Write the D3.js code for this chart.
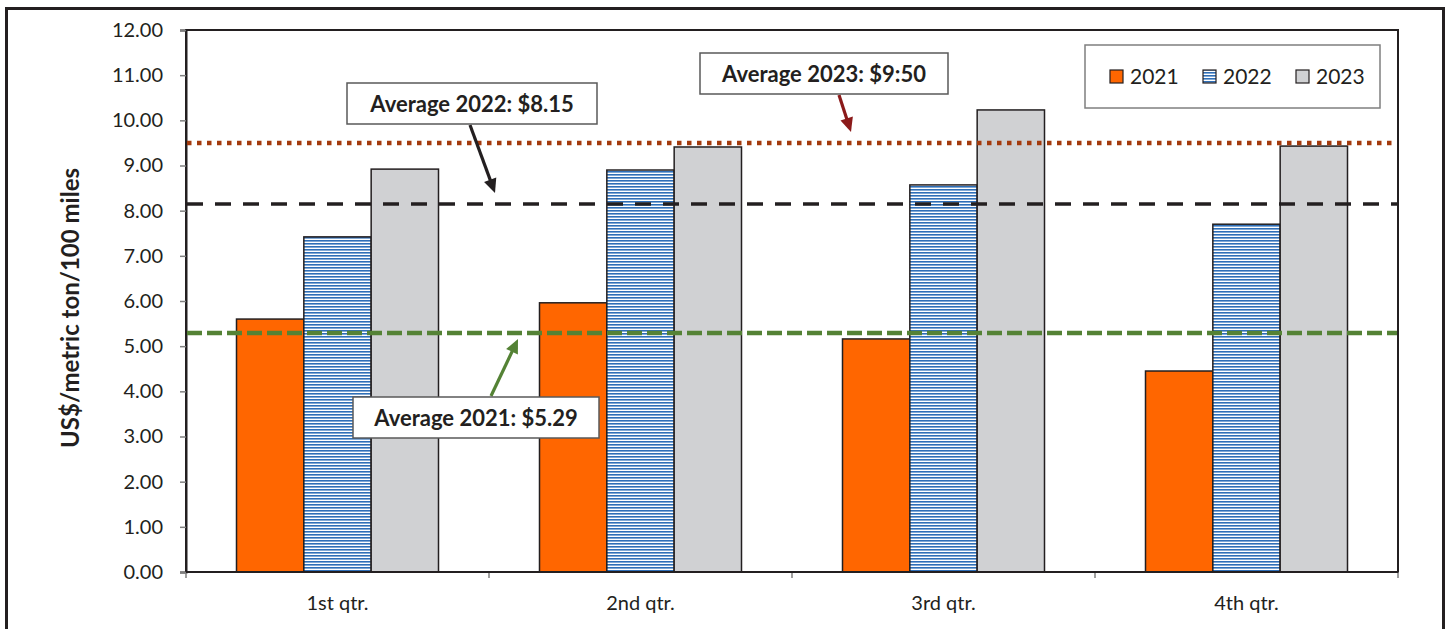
<!DOCTYPE html>
<html>
<head>
<meta charset="utf-8">
<script src="https://cdn.jsdelivr.net/npm/d3@7/dist/d3.min.js"></script>
<style>
  html, body { margin: 0; padding: 0; background: #fff; }
  svg { display: block; font-family: Lato, "Open Sans", sans-serif; }
</style>
</head>
<body>
<svg id="chart" width="1448" height="629"></svg>
<script>
// Quarterly rates, US$ per metric ton per 100 miles
const quarters = ["1st qtr.", "2nd qtr.", "3rd qtr.", "4th qtr."];
const years = ["2021", "2022", "2023"];
const values2021 = [5.60, 5.96, 5.16, 4.45];
const values2022 = [7.42, 8.90, 8.57, 7.70];
const values2023 = [8.92, 9.41, 10.23, 9.43];
const yTicks = [0, 1, 2, 3, 4, 5, 6, 7, 8, 9, 10, 11, 12];

// Yearly averages drawn as reference lines, with their callouts
const averages = [5.29, 8.15, 9.50];
const averageLabels = ["Average 2021: $5.29", "Average 2022: $8.15", "Average 2023: $9:50"];

const seriesValues = [values2021, values2022, values2023];

const svg = d3.select("#chart");
const ink = "#231f20";

const plot = { left: 186, right: 1398, top: 30, bottom: 572 };

const x0 = d3.scaleBand().domain(quarters)
  .range([plot.left, plot.right]).paddingInner(1 / 3).paddingOuter(1 / 6);
const x1 = d3.scaleBand().domain(years).range([0, x0.bandwidth()]).padding(0);
const y = d3.scaleLinear().domain([0, 12]).range([plot.bottom, plot.top]);

// hatch fill for 2022
const defs = svg.append("defs");
const pat = defs.append("pattern").attr("id", "hatch2022")
  .attr("patternUnits", "userSpaceOnUse").attr("width", 6).attr("height", 3);
pat.append("rect").attr("width", 6).attr("height", 3).attr("fill", "#ffffff");
pat.append("rect").attr("y", 0).attr("width", 6).attr("height", 1.6).attr("fill", "#2f6fb8");

const fills = { "2021": "#ff6600", "2022": "url(#hatch2022)", "2023": "#d0d1d3" };

// outer frame
svg.append("rect").attr("x", 6.5).attr("y", 8.5).attr("width", 1437).attr("height", 640)
  .attr("fill", "none").attr("stroke", ink).attr("stroke-width", 3);

// plot area border
svg.append("rect").attr("x", plot.left).attr("y", plot.top)
  .attr("width", plot.right - plot.left).attr("height", plot.bottom - plot.top)
  .attr("fill", "#fff").attr("stroke", ink).attr("stroke-width", 2);

// y axis
const yAxis = d3.axisLeft(y).tickValues(yTicks).tickFormat(d3.format(".2f")).tickSize(6).tickPadding(17);
const gy = svg.append("g").attr("transform", `translate(${plot.left},0)`).call(yAxis);
gy.select(".domain").attr("stroke", ink).attr("stroke-width", 2);
gy.selectAll(".tick line").attr("stroke", "#7f7f7f").attr("stroke-width", 1.5);
gy.selectAll(".tick text").attr("fill", ink).style("font-size", "20px")
  .style("font-family", "Lato, sans-serif");

// x axis: ticks at category boundaries
const boundaries = quarters.map(q => x0(q) - x0.step() * x0.paddingInner() / 2)
  .concat([plot.right]);
svg.append("g").selectAll("line").data(boundaries).join("line")
  .attr("x1", d => d).attr("x2", d => d)
  .attr("y1", plot.bottom).attr("y2", plot.bottom + 6)
  .attr("stroke", "#7f7f7f").attr("stroke-width", 1.5);
svg.append("g").selectAll("text").data(quarters).join("text")
  .attr("x", d => x0(d) + x0.bandwidth() / 2).attr("y", 610)
  .attr("text-anchor", "middle").attr("fill", ink).style("font-size", "20px")
  .text(d => d);

// bars
const groups = svg.append("g").selectAll("g").data(quarters).join("g")
  .attr("transform", d => `translate(${x0(d)},0)`);
groups.selectAll("rect")
  .data((q, i) => years.map((yr, k) => ({ year: yr, value: seriesValues[k][i] })))
  .join("rect")
  .attr("x", d => x1(d.year)).attr("width", x1.bandwidth())
  .attr("y", d => y(d.value)).attr("height", d => y(0) - y(d.value))
  .attr("fill", d => fills[d.year])
  .attr("stroke", ink).attr("stroke-width", 1.5);

// redraw bottom axis line over the bars
svg.append("line").attr("x1", plot.left).attr("x2", plot.right)
  .attr("y1", plot.bottom).attr("y2", plot.bottom)
  .attr("stroke", ink).attr("stroke-width", 2);

// average lines
const lineStyles = [
  { color: "#548235", dash: "15,5", width: 4.5 },
  { color: ink, dash: "16,12", width: 3.5 },
  { color: "#a33a0c", dash: "4.5,5.5", width: 4.5 }
];
averages.forEach((v, i) => {
  svg.append("line")
    .attr("x1", plot.left + 1).attr("x2", plot.right - 1)
    .attr("y1", y(v)).attr("y2", y(v))
    .attr("stroke", lineStyles[i].color)
    .attr("stroke-width", lineStyles[i].width)
    .attr("stroke-dasharray", lineStyles[i].dash);
});

// callouts: box and arrow pointing at each average line
const callouts = [
  { box: [353, 397, 246, 41], from: [491, 396], tipDx: 518, tipOffset: 6, color: "#548235" },
  { box: [347, 83, 250, 41], from: [470, 125], tipDx: 495, tipOffset: -11, color: ink },
  { box: [700, 53, 248, 41], from: [839, 95], tipDx: 851, tipOffset: -11, color: "#8b1a1a" }
];
callouts.forEach((c, i) => {
  const tip = [c.tipDx, y(averages[i]) + c.tipOffset];
  const dx = tip[0] - c.from[0], dy = tip[1] - c.from[1];
  const len = Math.hypot(dx, dy);
  const ux = dx / len, uy = dy / len;
  const headL = 14, headW = 6.5;
  const base = [tip[0] - ux * headL, tip[1] - uy * headL];
  svg.append("line")
    .attr("x1", c.from[0]).attr("y1", c.from[1])
    .attr("x2", base[0] + ux * 2).attr("y2", base[1] + uy * 2)
    .attr("stroke", c.color).attr("stroke-width", 3.2);
  svg.append("path")
    .attr("d", d3.line()([
      tip,
      [base[0] - uy * headW, base[1] + ux * headW],
      [base[0] + uy * headW, base[1] - ux * headW]
    ]) + "Z")
    .attr("fill", c.color);
  const [bx, by, bw, bh] = c.box;
  svg.append("rect").attr("x", bx).attr("y", by).attr("width", bw).attr("height", bh)
    .attr("fill", "#fff").attr("stroke", "#595959").attr("stroke-width", 1.5);
  svg.append("text").attr("x", bx + bw / 2).attr("y", by + bh / 2 + 8)
    .attr("text-anchor", "middle").attr("fill", ink)
    .style("font-size", "22px").style("font-weight", "bold")
    .text(averageLabels[i]);
});

// legend
const legend = svg.append("g");
legend.append("rect").attr("x", 1085).attr("y", 45).attr("width", 295).attr("height", 63)
  .attr("fill", "#fff").attr("stroke", "#7f7f7f").attr("stroke-width", 1.5);
const legendX = [1110, 1203, 1296];
years.forEach((yr, i) => {
  legend.append("rect").attr("x", legendX[i]).attr("y", 70).attr("width", 13).attr("height", 13)
    .attr("fill", fills[yr]).attr("stroke", ink).attr("stroke-width", 1.2);
  legend.append("text").attr("x", legendX[i] + 20).attr("y", 84)
    .attr("fill", ink).style("font-size", "21px").text(yr);
});

// y axis title
svg.append("text")
  .attr("transform", "translate(79,308) rotate(-90)")
  .attr("text-anchor", "middle").attr("fill", ink)
  .style("font-size", "24px").style("font-weight", "bold")
  .text("US$/metric ton/100 miles");
</script>
</body>
</html>
